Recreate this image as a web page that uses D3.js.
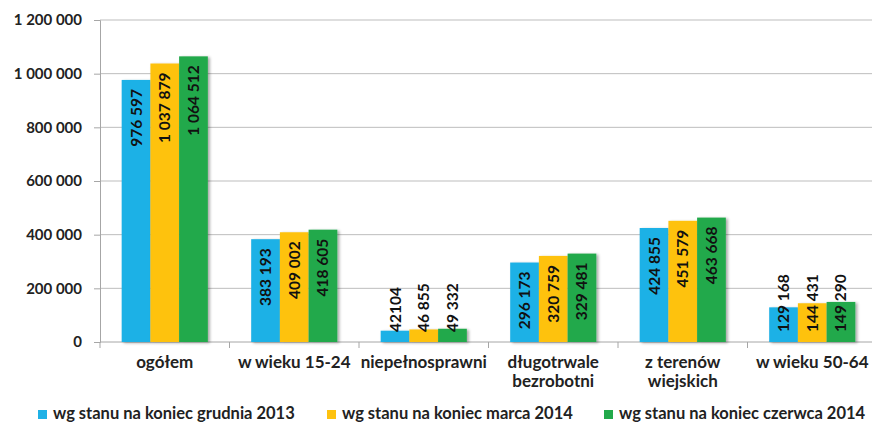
<!DOCTYPE html>
<html><head><meta charset="utf-8">
<script src="https://cdn.jsdelivr.net/npm/d3@7"></script>
<style>body{margin:0;background:#fff}svg{display:block}</style>
</head><body>
<svg id="c" width="872" height="424"></svg>
<script>
const categories = [["ogółem"],["w wieku 15-24"],["niepełnosprawni"],["długotrwale","bezrobotni"],["z terenów","wiejskich"],["w wieku 50-64"]];
const seriesNames = ["wg stanu na koniec grudnia 2013","wg stanu na koniec marca 2014","wg stanu na koniec czerwca 2014"];
const dec2013 = [976597, 383193, 42104, 296173, 424855, 129168];
const mar2014 = [1037879, 409002, 46855, 320759, 451579, 144431];
const jun2014 = [1064512, 418605, 49332, 329481, 463668, 149290];
const labelsDec = ["976 597","383 193","42104","296 173","424 855","129 168"];
const labelsMar = ["1 037 879","409 002","46 855","320 759","451 579","144 431"];
const labelsJun = ["1 064 512","418 605","49 332","329 481","463 668","149 290"];
const yTicks = [0,200000,400000,600000,800000,1000000,1200000];
const colors = ["#1fb1e6","#fec20f","#22a94b"];

const series = [dec2013, mar2014, jun2014];
const labels = [labelsDec, labelsMar, labelsJun];
const svg = d3.select("#c");
const font = "Lato, 'Open Sans', sans-serif";
const pL = 100, pR = 877, pT = 20, pB = 342;
const x = d3.scaleBand().domain(d3.range(categories.length)).range([pL, pR]).paddingInner(0).paddingOuter(0);
const xs = d3.scaleBand().domain(d3.range(3)).range([0, x.bandwidth()]).paddingOuter(0.755).paddingInner(0);
const y = d3.scaleLinear().domain([0, 1200000]).range([pB, pT]);
const fmt = v => d3.format(",")(v).replace(/,/g, " ");

const defs = svg.append("defs");
const f = defs.append("filter").attr("id","sh").attr("x","-20%").attr("y","-10%").attr("width","150%").attr("height","130%");
f.append("feGaussianBlur").attr("in","SourceAlpha").attr("stdDeviation",1.5);
f.append("feOffset").attr("dx",2).attr("dy",1).attr("result","o");
f.append("feComponentTransfer").append("feFuncA").attr("type","linear").attr("slope",0.35);
const m = f.append("feMerge"); m.append("feMergeNode"); m.append("feMergeNode").attr("in","SourceGraphic");

// grid
svg.append("g").selectAll("line").data(yTicks.slice(1)).join("line")
  .attr("x1", pL).attr("x2", pR).attr("y1", d=>y(d)).attr("y2", d=>y(d))
  .attr("stroke","#bdbdbd").attr("stroke-width",1);

// y axis
const ya = svg.append("g").attr("transform",`translate(${pL},0)`)
  .call(d3.axisLeft(y).tickValues(yTicks).tickFormat(fmt).tickSize(6).tickPadding(12));
ya.select(".domain").attr("stroke","#a6a6a6");
ya.selectAll(".tick line").attr("stroke","#a6a6a6");
ya.selectAll("text").attr("font-family",font).attr("font-weight","bold").attr("font-size","15px").attr("fill","#222");

// x axis line & ticks
svg.append("line").attr("x1",pL).attr("x2",pR).attr("y1",pB).attr("y2",pB).attr("stroke","#a6a6a6");
svg.append("g").selectAll("line").data(d3.range(categories.length+1)).join("line")
  .attr("x1", d=>pL + d*x.step()).attr("x2", d=>pL + d*x.step())
  .attr("y1", pB).attr("y2", pB+6).attr("stroke","#a6a6a6");

// bars
series.forEach((s, si) => {
  svg.append("g").attr("filter","url(#sh)").selectAll("rect").data(s).join("rect")
    .attr("x", (d,i)=>x(i)+xs(si)).attr("width", xs.bandwidth())
    .attr("y", d=>y(d)).attr("height", d=>y(0)-y(d)).attr("fill", colors[si]);
});
// labels
series.forEach((s, si) => {
  svg.append("g").selectAll("text").data(s).join("text")
    .each(function(d,i){
      const cx = x(i)+xs(si)+xs.bandwidth()/2 + 5.5;
      const h = y(0)-y(d);
      const t = d3.select(this);
      if (h > 75) {
        t.attr("transform",`translate(${cx},${y(d)+9}) rotate(-90)`).attr("text-anchor","end");
      } else {
        t.attr("transform",`translate(${cx},${y(0)-10}) rotate(-90)`).attr("text-anchor","start");
      }
    })
    .text((d,i)=>labels[si][i])
    .attr("font-family",font).attr("font-weight","bold").attr("font-size","15.5px").attr("fill","#111");
});

// category labels
svg.append("g").selectAll("text").data(categories).join("text")
  .attr("x",(d,i)=>x(i)+x.bandwidth()/2).attr("y",368)
  .attr("text-anchor","middle").attr("font-family",font).attr("font-weight","bold").attr("font-size","17px").attr("fill","#222")
  .each(function(d){
    d3.select(this).selectAll("tspan").data(d).join("tspan")
      .attr("x", d3.select(this).attr("x")).attr("dy",(t,j)=>j?19:0).text(t=>t);
  });

// legend
const lx = [38, 327, 604];
const lg = svg.append("g").selectAll("g").data(seriesNames).join("g")
  .attr("transform",(d,i)=>`translate(${lx[i]},0)`);
lg.append("rect").attr("x",0).attr("y",410).attr("width",9).attr("height",9).attr("fill",(d,i)=>colors[i]);
lg.append("text").attr("x",15).attr("y",419).text(d=>d)
  .attr("font-family",font).attr("font-weight","bold").attr("font-size","16.5px").attr("fill","#222");
</script>
</body></html>
